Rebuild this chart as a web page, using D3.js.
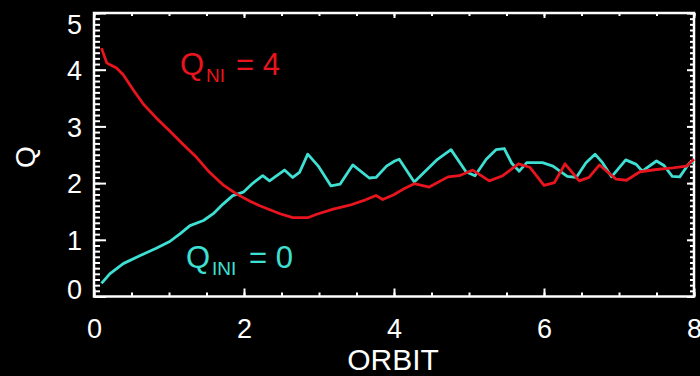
<!DOCTYPE html>
<html>
<head>
<meta charset="utf-8">
<script src="https://cdn.jsdelivr.net/npm/d3@7"></script>
<style>
  html, body { margin: 0; padding: 0; background: #000; }
  svg { display: block; }
</style>
</head>
<body>
<svg id="chart" width="700" height="376"></svg>
<script>
// ---- data ----
const redX = [0.10,0.17,0.21,0.30,0.39,0.52,0.66,0.83,1.01,1.19,1.37,1.54,1.72,1.90,2.08,2.21,2.48,2.65,2.85,2.97,3.19,3.41,3.59,3.76,3.85,3.99,4.12,4.27,4.47,4.72,4.87,5.05,5.27,5.45,5.66,5.81,6.00,6.14,6.28,6.47,6.60,6.74,6.96,7.10,7.28,7.50,7.72,7.90,8.00];
const redQ = [4.38,4.12,4.09,4.03,3.91,3.65,3.39,3.15,2.92,2.68,2.45,2.19,1.97,1.81,1.68,1.60,1.46,1.39,1.39,1.45,1.54,1.61,1.69,1.78,1.71,1.79,1.89,1.99,1.93,2.11,2.13,2.23,2.04,2.13,2.34,2.28,1.96,2.01,2.34,2.04,2.10,2.32,2.07,2.05,2.20,2.24,2.27,2.30,2.42];

const cyanX = [0.10,0.21,0.39,0.61,0.83,1.01,1.15,1.28,1.46,1.59,1.72,1.85,1.99,2.12,2.25,2.34,2.54,2.65,2.74,2.85,2.99,3.16,3.28,3.45,3.67,3.76,3.90,4.01,4.07,4.27,4.58,4.76,4.96,5.08,5.23,5.36,5.47,5.57,5.67,5.77,5.98,6.12,6.31,6.43,6.56,6.68,6.78,6.90,7.09,7.23,7.31,7.50,7.60,7.71,7.81,7.94,8.00];
const cyanQ = [0.23,0.40,0.58,0.72,0.85,0.97,1.11,1.25,1.34,1.46,1.63,1.78,1.84,2.00,2.13,2.04,2.23,2.10,2.19,2.51,2.30,1.95,1.98,2.32,2.09,2.10,2.30,2.39,2.42,2.02,2.42,2.59,2.20,2.13,2.42,2.59,2.61,2.35,2.21,2.36,2.36,2.30,2.12,2.10,2.36,2.51,2.36,2.11,2.41,2.33,2.21,2.39,2.31,2.12,2.11,2.36,2.36];

const xMajorTicks = [0, 2, 4, 6, 8];
const yMajorTicks = [0, 1, 2, 3, 4, 5];
const xTitle = "ORBIT";
const yTitle = "Q";

// ---- layout ----
const svg = d3.select("#chart");
const W = 700, H = 376;
const mLeft = 94, mRight = 694, mTop = 13, mBottom = 296.5;
const font = "'Liberation Sans', Arial, Helvetica, sans-serif";
const RED = "#e8141e", CYAN = "#3ee0d4", FG = "#ffffff";

svg.append("rect").attr("width", W).attr("height", H).attr("fill", "#000");

const x = d3.scaleLinear().domain([0, 8]).range([mLeft, mRight]);
const y = d3.scaleLinear().domain([0, 5]).range([mBottom, mTop]);

const xMinor = d3.range(0, 8.001, 0.5);
const yMinor = d3.range(0, 5.001, 0.1).map(v => +v.toFixed(1));

function styleAxis(g) {
  g.select(".domain").remove();
  g.selectAll("line").attr("stroke", FG).attr("stroke-width", 2);
  g.selectAll("text").attr("fill", FG).attr("font-family", font);
}

// minor ticks
svg.append("g").attr("transform", `translate(${mLeft},0)`)
  .call(d3.axisLeft(y).tickValues(yMinor).tickSize(-6).tickFormat("")).call(styleAxis);
svg.append("g").attr("transform", `translate(${mRight},0)`)
  .call(d3.axisRight(y).tickValues(yMinor).tickSize(-4).tickFormat("")).call(styleAxis);
svg.append("g").attr("transform", `translate(0,${mBottom})`)
  .call(d3.axisBottom(x).tickValues(xMinor).tickSize(-4).tickFormat("")).call(styleAxis);
svg.append("g").attr("transform", `translate(0,${mTop})`)
  .call(d3.axisTop(x).tickValues(xMinor).tickSize(-3).tickFormat("")).call(styleAxis);

// major ticks
const gy = svg.append("g").attr("transform", `translate(${mLeft},0)`)
  .call(d3.axisLeft(y).tickValues(yMajorTicks).tickSize(-12).tickPadding(12).tickFormat(d3.format("d")))
  .call(styleAxis);
gy.selectAll("text").attr("font-size", 27).attr("dy", "0.36em");
gy.selectAll(".tick").filter(d => d === 0).select("text").attr("y", -8);
gy.selectAll(".tick").filter(d => d === 5).select("text").attr("y", 11);

svg.append("g").attr("transform", `translate(${mRight},0)`)
  .call(d3.axisRight(y).tickValues(yMajorTicks).tickSize(-7).tickFormat("")).call(styleAxis);

const gx = svg.append("g").attr("transform", `translate(0,${mBottom})`)
  .call(d3.axisBottom(x).tickValues(xMajorTicks).tickSize(-8).tickFormat(d3.format("d")))
  .call(styleAxis);
gx.selectAll("text").attr("font-size", 27).attr("y", 41).attr("dy", 0);

svg.append("g").attr("transform", `translate(0,${mTop})`)
  .call(d3.axisTop(x).tickValues(xMajorTicks).tickSize(-5).tickFormat("")).call(styleAxis);

// frame
svg.append("rect")
  .attr("x", mLeft).attr("y", mTop)
  .attr("width", mRight - mLeft).attr("height", mBottom - mTop)
  .attr("fill", "none").attr("stroke", FG).attr("stroke-width", 2.5);

// lines
const line = d3.line().x(d => x(d[0])).y(d => y(d[1]));
const redData = redX.map((v, i) => [v, redQ[i]]);
const cyanData = cyanX.map((v, i) => [v, cyanQ[i]]);

svg.append("path").datum(cyanData).attr("d", line)
  .attr("fill", "none").attr("stroke", CYAN).attr("stroke-width", 2.8).attr("stroke-linejoin", "round");
svg.append("path").datum(redData).attr("d", line)
  .attr("fill", "none").attr("stroke", RED).attr("stroke-width", 2.8).attr("stroke-linejoin", "round");

// titles
svg.append("text").attr("x", (mLeft + mRight) / 2 - 1).attr("y", 370)
  .attr("text-anchor", "middle").attr("font-family", font).attr("font-size", 30)
  .attr("fill", FG).text(xTitle);
svg.append("text").attr("transform", "translate(35,157) rotate(-90)")
  .attr("text-anchor", "middle").attr("font-family", font).attr("font-size", 28)
  .attr("fill", FG).text(yTitle);

// annotations
function label(x0, yb, sub, subDx, rest, restDx, color) {
  const t = svg.append("text").attr("font-family", font).attr("fill", color);
  t.append("tspan").attr("x", x0).attr("y", yb).attr("font-size", 31).text("Q");
  t.append("tspan").attr("x", x0 + subDx).attr("y", yb + 7).attr("font-size", 19).text(sub);
  t.append("tspan").attr("x", x0 + restDx).attr("y", yb).attr("font-size", 31).text(rest);
}
label(180, 75, "NI", 26, "= 4", 56, RED);
label(186, 268, "INI", 26, "= 0", 63, CYAN);
</script>
</body>
</html>
